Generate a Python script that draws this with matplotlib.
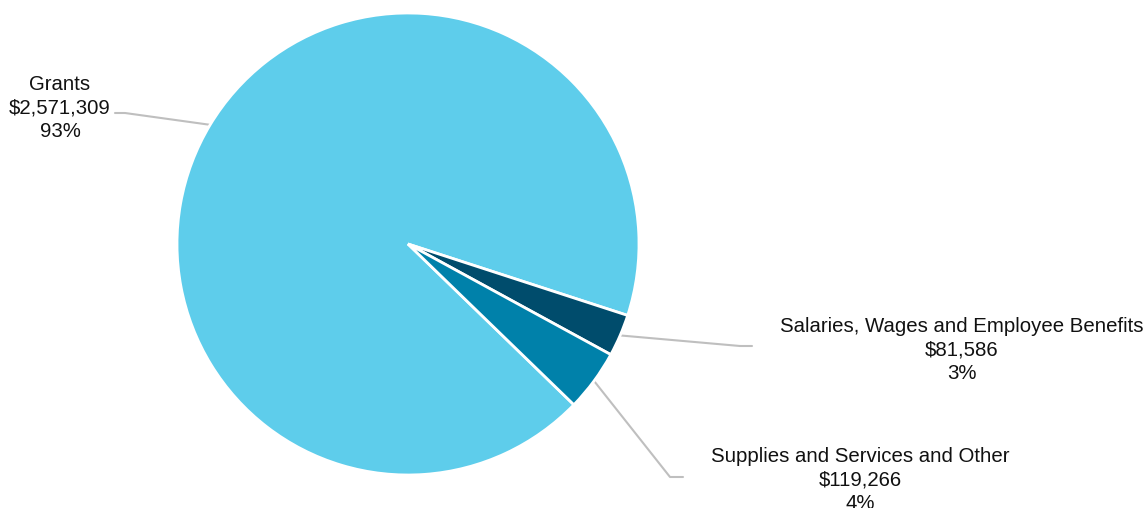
import numpy as np
import matplotlib.pyplot as plt

plt.rcParams['font.family'] = ['Liberation Sans', 'DejaVu Sans']

categories = ['Grants', 'Salaries, Wages and Employee Benefits', 'Supplies and Services and Other']
amounts = [2571309, 81586, 119266]
colors = ['#5ECDEB', '#004C6C', '#0081AA']

W, H = 1147, 508
fig = plt.figure(figsize=(W / 100, H / 100), dpi=100)
ax = fig.add_axes([0, 0, 1, 1])

cx, cy, r = 408, 264, 231
wedges, _ = ax.pie(amounts, colors=colors, startangle=-44.1, counterclock=False,
                   center=(cx, cy), radius=r, frame=True,
                   wedgeprops=dict(edgecolor='white', linewidth=2))
ax.set_xlim(0, W)
ax.set_ylim(0, H)
ax.set_aspect('equal')
ax.axis('off')

total = sum(amounts)
# label anchor: text centre, leader elbow, leader end
label_pos = [
    ((60, 400), (125, 395), (115, 395)),
    ((962, 158), (740, 162), (752, 162)),
    ((860, 28), (670, 31), (683, 31)),
]
for w, name, amt, (txt, elbow, end) in zip(wedges, categories, amounts, label_pos):
    mid = np.deg2rad((w.theta1 + w.theta2) / 2)
    sx, sy = cx + r * np.cos(mid), cy + r * np.sin(mid)
    ax.plot([sx, elbow[0], end[0]], [sy, elbow[1], end[1]],
            color='#BFBFBF', lw=1.5, solid_capstyle='round', zorder=0)
    pct = round(amt / total * 100)
    ax.text(txt[0], txt[1], f'{name}\n${amt:,}\n{pct}%', ha='center', va='center',
            fontsize=14.7, color='#111111', linespacing=1.28)

fig.savefig('out.png', dpi=100)
